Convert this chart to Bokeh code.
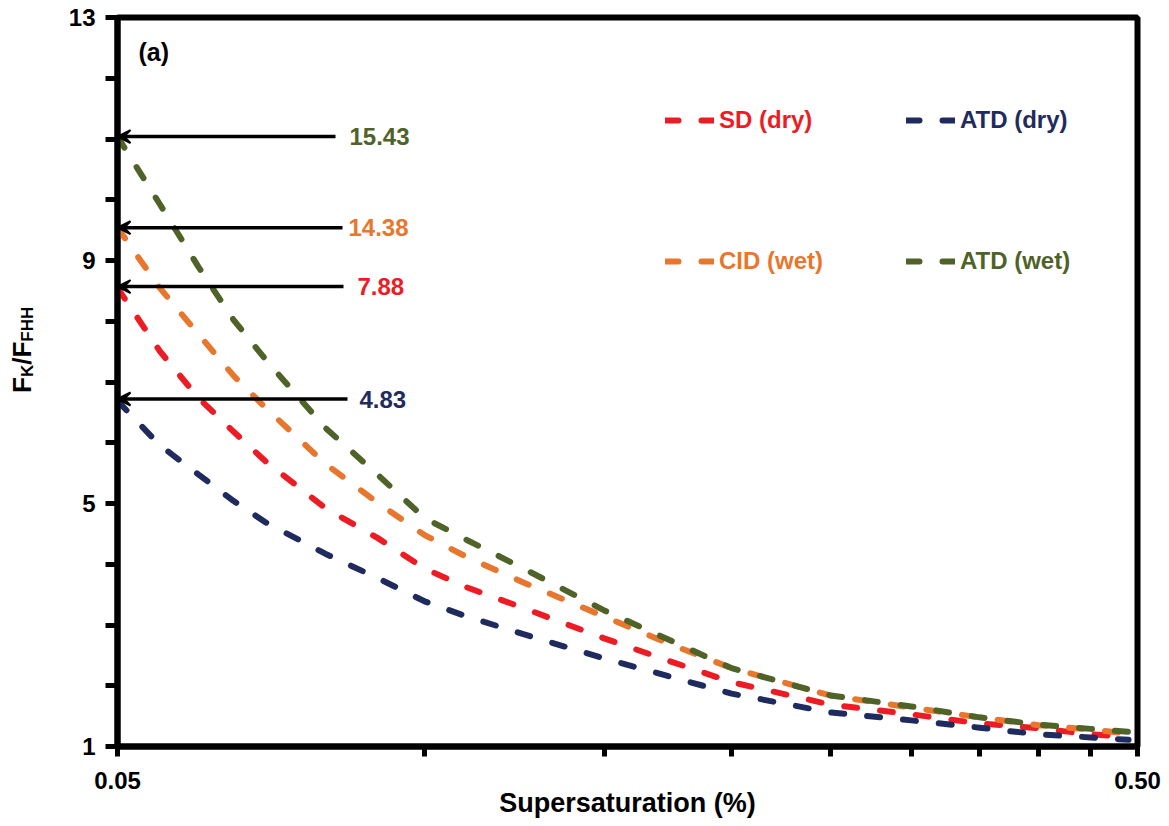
import math
from bokeh.plotting import figure
from bokeh.layouts import row
from bokeh.models import (Range1d, FixedTicker, CustomJSTickFormatter, Legend,
                          LegendItem, Label, Arrow, VeeHead, Div)
from bokeh.embed import file_html
from bokeh.resources import INLINE

# ---------------- data ----------------
supersaturation = [0.05, 0.055, 0.06, 0.065, 0.07, 0.08, 0.09, 0.10, 0.11, 0.125,
                   0.15, 0.175, 0.20, 0.25, 0.30, 0.35, 0.40, 0.45, 0.49]
sd_dry = [8.55, 7.51, 6.74, 6.18, 5.68, 4.92, 4.43, 3.93, 3.62, 3.28,
          2.78, 2.39, 2.06, 1.69, 1.53, 1.38, 1.30, 1.20, 1.16]
atd_dry = [6.69, 5.96, 5.48, 5.04, 4.68, 4.17, 3.77, 3.39, 3.14, 2.85,
           2.45, 2.14, 1.87, 1.56, 1.43, 1.31, 1.20, 1.15, 1.11]
cid_wet = [9.54, 8.55, 7.79, 7.10, 6.56, 5.65, 5.01, 4.48, 4.12, 3.70,
           3.14, 2.67, 2.29, 1.84, 1.64, 1.48, 1.35, 1.28, 1.21]
atd_wet = [11.04, 9.93, 8.90, 8.02, 7.35, 6.24, 5.47, 4.76, 4.40, 3.93,
           3.24, 2.73, 2.29, 1.84, 1.66, 1.48, 1.36, 1.29, 1.24]

series_names = ["SD (dry)", "ATD (dry)", "CID (wet)", "ATD (wet)"]

arrow_texts = ["15.43", "14.38", "7.88", "4.83"]
arrow_values = [11.04, 9.54, 8.57, 6.72]

x_ticks = [0.05, 0.10, 0.15, 0.20, 0.25, 0.30, 0.35, 0.40, 0.45, 0.50]
x_tick_labels = ["0.05", "", "", "", "", "", "", "", "", "0.50"]
y_ticks = [1, 2, 3, 4, 5, 6, 7, 8, 9, 10, 11, 12, 13]
y_tick_labels = ["1", "", "", "", "5", "", "", "", "9", "", "", "", "13"]

x_title = "Supersaturation (%)"
y_title_main = ["F", "F"]
y_title_subs = ["K", "FHH"]

# ---------------- style ----------------
RED = "#ED1C24"
ORANGE = "#E8762C"
GREEN = "#4F6228"
NAVY = "#1F2B5E"
FONT = "Liberation Sans"

FRAME_W = 1020  # px per decade of the log axis
DIV_W = 50

p = figure(width=1163 - DIV_W, height=824, x_axis_type="log",
           x_range=Range1d(0.05, 0.5), y_range=Range1d(1, 13),
           output_backend="svg", toolbar_location=None,
           min_border_left=117 - DIV_W, min_border_right=26,
           min_border_top=17, min_border_bottom=78)
p.margin = 0
p.xgrid.visible = False
p.ygrid.visible = False
p.outline_line_color = "black"
p.outline_line_width = 6
p.background_fill_color = "white"
p.border_fill_color = "white"

def js_formatter(vals, labels):
    return CustomJSTickFormatter(code=(
        "const v=%s; const l=%s;"
        "for (let i=0;i<v.length;i++){ if (Math.abs(tick-v[i])<1e-9) return l[i]; }"
        "return '';" % (str(vals), str(labels).replace("'", '"'))))

for ax in (p.xaxis[0], p.yaxis[0]):
    ax.axis_line_width = 6
    ax.axis_line_color = "black"
    ax.major_tick_line_width = 5
    ax.major_tick_line_color = "black"
    ax.major_tick_in = 0
    ax.minor_tick_line_color = None
    ax.major_label_text_font = FONT
    ax.major_label_text_font_size = "24px"
    ax.major_label_text_font_style = "bold"
    ax.major_label_text_color = "black"

p.xaxis.ticker = FixedTicker(ticks=x_ticks, minor_ticks=[])
p.xaxis.formatter = js_formatter(x_ticks, x_tick_labels)
p.xaxis.major_tick_out = 10
p.xaxis.major_label_standoff = 15
p.xaxis.axis_label = x_title
p.xaxis.axis_label_text_font = FONT
p.xaxis.axis_label_text_font_size = "27px"
p.xaxis.axis_label_text_font_style = "bold"
p.xaxis.axis_label_text_color = "black"
p.xaxis.axis_label_standoff = -4

p.yaxis.ticker = FixedTicker(ticks=y_ticks, minor_ticks=[])
p.yaxis.formatter = js_formatter(y_ticks, y_tick_labels)
p.yaxis.major_tick_out = 12
p.yaxis.major_label_standoff = 10

# ---------------- curves ----------------
series = [sd_dry, atd_dry, cid_wet, atd_wet]
colors = [RED, NAVY, ORANGE, GREEN]
renderers = []
for vals, col in zip(series, colors):
    r = p.line(supersaturation, vals, line_color=col, line_width=6,
               line_dash="13 23", line_cap="round")
    renderers.append(r)

# ---------------- legends ----------------
legend_locs = [(548, 612), (789, 612), (548, 471), (789, 471)]
for name, r, col, loc in zip(series_names, renderers, colors, legend_locs):
    leg = Legend(items=[LegendItem(label=name, renderers=[r])], location=loc,
                 glyph_width=49, glyph_height=24, label_height=24,
                 label_standoff=5, padding=0, margin=0, spacing=0,
                 border_line_color=None, background_fill_alpha=0,
                 label_text_color=col, label_text_font=FONT,
                 label_text_font_size="24px", label_text_font_style="bold")
    p.add_layout(leg)

# ---------------- arrows + labels ----------------
arrow_colors = [GREEN, ORANGE, RED, NAVY]
tail_offsets = [218, 225, 226, 230]
text_offsets = [232, 231, 240, 242]
for val, txt, col, toff, xoff in zip(arrow_values, arrow_texts, arrow_colors,
                                     tail_offsets, text_offsets):
    x_tail = 0.05 * 10 ** (toff / FRAME_W)
    p.add_layout(Arrow(x_start=x_tail, y_start=val, x_end=0.05, y_end=val,
                       line_color="black", line_width=3.5,
                       end=VeeHead(size=13, fill_color="black",
                                   line_color="black", line_width=2)))
    p.add_layout(Label(x=0.05, y=val, x_offset=xoff, text=txt, text_color=col,
                       text_font=FONT, text_font_size="24px",
                       text_font_style="bold", text_baseline="middle",
                       text_align="left"))

p.add_layout(Label(x=0.05, y=13, x_offset=21, y_offset=-34, text="(a)",
                   text_color="black", text_font=FONT, text_font_size="25px",
                   text_font_style="bold", text_baseline="middle"))

# ---------------- y-axis title (rotated HTML with subscripts) ----------------
sub_style = "font-size:17px; position:relative; top:2px;"
y_html = "".join([
    y_title_main[0], '<span style="%s">%s</span>' % (sub_style, y_title_subs[0]),
    "/", y_title_main[1], '<span style="%s">%s</span>' % (sub_style, y_title_subs[1]),
])
div_html = (
    '<div style="position:absolute; left:9px; top:393px; '
    'transform:rotate(-90deg); transform-origin:0 0; white-space:nowrap; '
    "font-family:'Liberation Sans', Arial, sans-serif; font-weight:bold; "
    'font-size:26px; line-height:26px; color:black;">' + y_html + '</div>'
)
ytitle = Div(text=div_html, width=DIV_W, height=824, margin=0)

layout = row(ytitle, p, spacing=0)

open("out.html", "w").write(file_html(layout, INLINE))
